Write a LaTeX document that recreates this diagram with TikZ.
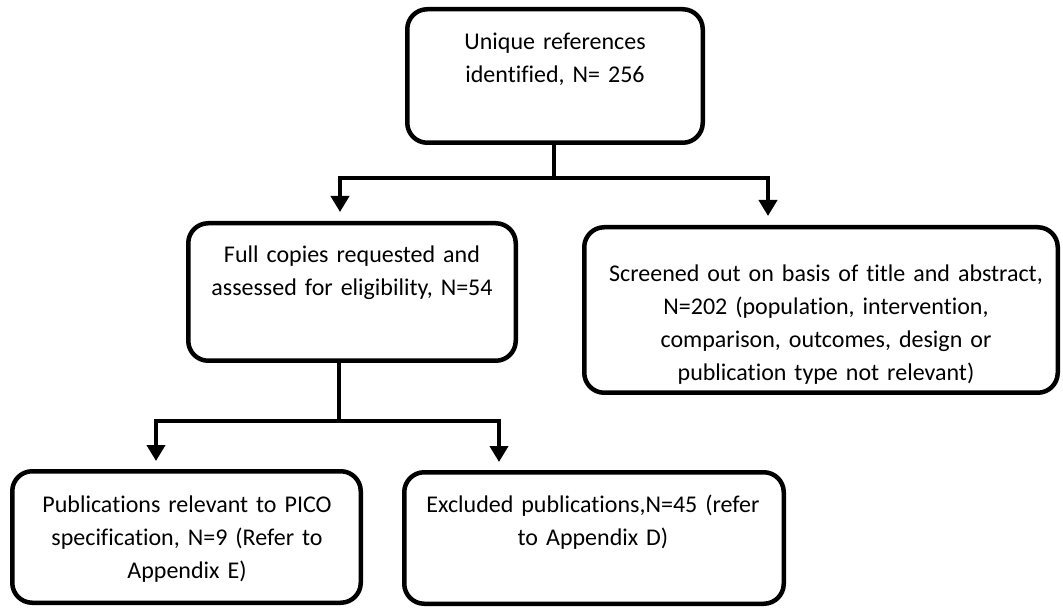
\documentclass[tikz,border=0pt]{standalone}
\usepackage{fontspec}
\setmainfont{Carlito}[Ligatures=NoCommon]
\usetikzlibrary{arrows.meta}
\begin{document}
\begin{tikzpicture}[x=1pt,y=-1pt,
  box/.style={draw=black,line width=4.5pt,rounded corners=20pt,inner sep=0pt,fill=white},
  txt/.style={anchor=base,inner sep=0pt,align=center,font=\fontsize{24}{33}\selectfont},
  conn/.style={draw=black,line width=4.5pt},
  arr/.style={conn,-{Triangle[width=18pt,length=16pt]}}]
\useasboundingbox (0,0) rectangle (1063,609);
% boxes
\node[box,minimum width=295.5pt,minimum height=133.5pt] (top) at (555,76) {};
\node[box,minimum width=327.5pt,minimum height=137.5pt] (full) at (352,292) {};
\node[box,minimum width=473.5pt,minimum height=165.5pt] (screen) at (821,310) {};
\node[box,minimum width=348.5pt,minimum height=131.5pt] (pubs) at (186.5,537) {};
\node[box,minimum width=379.5pt,minimum height=131.5pt] (excl) at (594,538) {};
% texts
\node[txt,text width=290pt] (ttop) at (555,50) {Unique references\\identified, N= 256};
\node[txt,text width=320pt] (tfull) at (352,263) {Full copies requested and\\assessed for eligibility, N=54};
\node[txt,text width=470pt] (tscreen) at (826,282) {Screened out on basis of title and abstract,\\N=202 (population, intervention,\\comparison, outcomes, design or\\publication type not relevant)};
\node[txt,text width=345pt] (tpubs) at (187,512) {Publications relevant to PICO\\specification, N=9 (Refer to\\Appendix E)};
\node[txt,text width=375pt] (texcl) at (593,512) {Excluded publications,N=45 (refer\\to Appendix D)};
% connectors
\coordinate (c1) at (554,178);
\coordinate (aL) at (340,178);
\coordinate (aR) at (768,178);
\coordinate (c2) at (339,421);
\coordinate (bL) at (156,421);
\coordinate (bR) at (499,421);
\draw[conn] (c1 |- top.south) -- (c1);
\draw[arr,shorten >=9pt] (c1) -- (aL) -- (aL |- full.north);
\draw[arr,shorten >=9pt] (c1) -- (aR) -- (aR |- screen.north);
\draw[conn] (c2 |- full.south) -- (c2);
\draw[arr,shorten >=8pt] (c2) -- (bL) -- (bL |- pubs.north);
\draw[arr,shorten >=8pt] (c2) -- (bR) -- (bR |- excl.north);
\end{tikzpicture}
\end{document}
